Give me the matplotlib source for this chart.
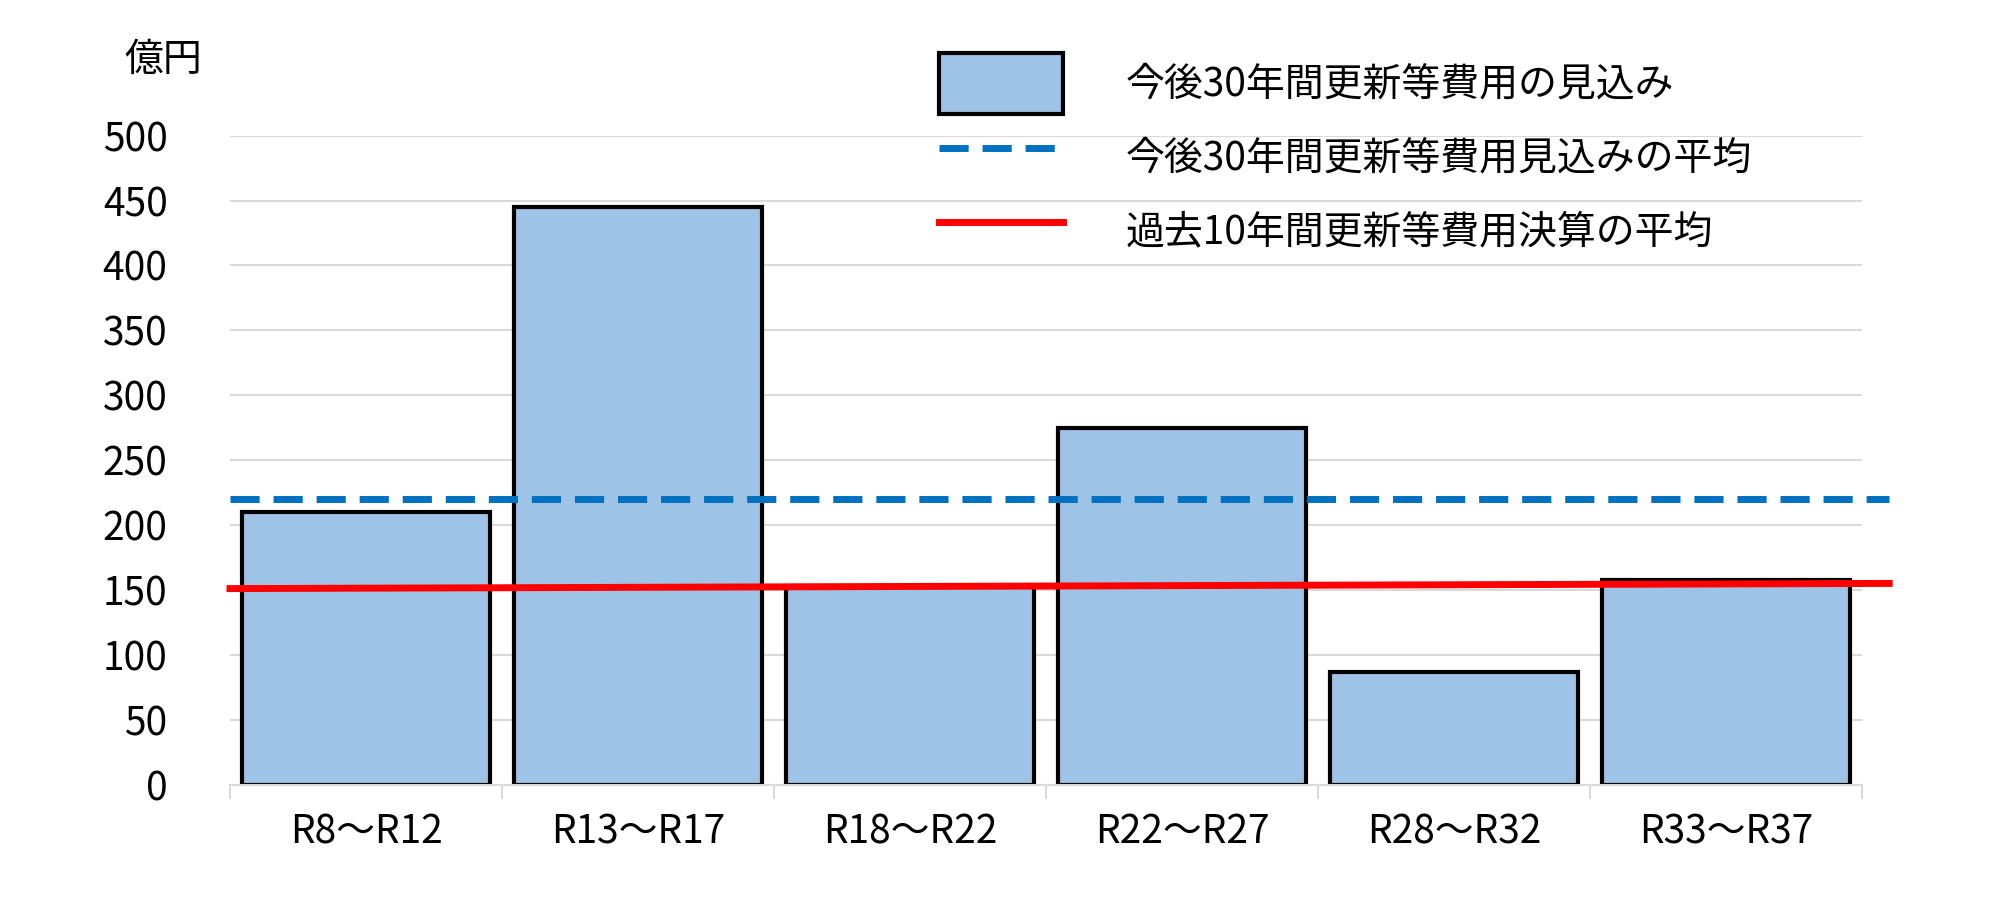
import matplotlib
matplotlib.use("Agg")
import matplotlib.pyplot as plt
from matplotlib.patches import Patch
from matplotlib.lines import Line2D

plt.rcParams['font.family'] = ['Noto Sans CJK JP', 'DejaVu Sans']

categories = ["R8～R12", "R13～R17", "R18～R22", "R22～R27", "R28～R32", "R33～R37"]
values = [210, 445, 153, 275, 87, 158]
avg_future = 220
avg_past_start, avg_past_end = 151, 155
yticks = [0, 50, 100, 150, 200, 250, 300, 350, 400, 450, 500]
labels = ["今後30年間更新等費用の見込み", "今後30年間更新等費用見込みの平均", "過去10年間更新等費用決算の平均"]

fig = plt.figure(figsize=(20, 9.23), dpi=100)
ax = fig.add_axes([0.115, 0.15, 0.816, 0.703])
x = list(range(len(categories)))
ax.bar(x, values, width=0.91, color='#9DC3E6', edgecolor='black', linewidth=3, zorder=2)
ax.set_xlim(-0.5, 5.5)
ax.set_ylim(0, 500)
ax.set_yticks(yticks)
ax.set_yticklabels([str(v) for v in yticks], fontsize=28)
ax.set_xticks(x)
ax.set_xticklabels(categories, fontsize=28)
ax.yaxis.grid(True, color='#D9D9D9', linewidth=1.5, zorder=0)
ax.set_axisbelow(True)
for s in ['top', 'right', 'left']:
    ax.spines[s].set_visible(False)
ax.spines['bottom'].set_color('#D9D9D9')
ax.spines['bottom'].set_linewidth(1.5)
ax.tick_params(axis='y', length=0, pad=45)
ax.tick_params(axis='x', length=0, pad=20)
ax.set_xticks([i - 0.5 for i in range(7)], minor=True)
ax.tick_params(axis='x', which='minor', length=10, color='#D9D9D9', width=1.5)

dash = (0, (4.2, 2.0))
ax.plot([-0.5, 5.6], [avg_future, avg_future], color='#0070C0', linewidth=5, linestyle=dash, clip_on=False, zorder=3)
ax.plot([-0.5, 5.6], [avg_past_start, avg_past_end], color='#FF0000', linewidth=5, clip_on=False, zorder=3)

fig.text(0.062, 0.935, "億円", fontsize=28, va='center')

handles = [Patch(facecolor='#9DC3E6', edgecolor='black', linewidth=3),
           Line2D([], [], color='#0070C0', linewidth=5, linestyle=dash),
           Line2D([], [], color='#FF0000', linewidth=5)]
fig.legend(handles, labels, loc='upper left', bbox_to_anchor=(0.452, 0.98), frameon=False,
           fontsize=28, handlelength=3.2, handleheight=2.0, labelspacing=0.35, handletextpad=1.6)

fig.savefig("out.png", dpi=100, facecolor='white')
